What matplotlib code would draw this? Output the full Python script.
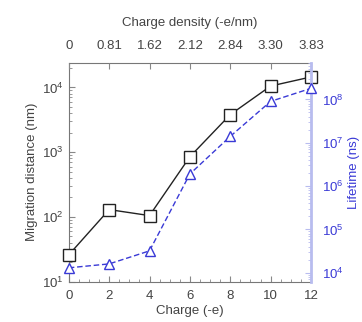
import numpy as np
import matplotlib.pyplot as plt
from matplotlib.ticker import LogLocator, NullFormatter, MultipleLocator

plt.rcParams['font.family'] = ['Liberation Sans', 'DejaVu Sans']

# data
charge = [0, 2, 4, 6, 8, 10, 12]
density_labels = ['0', '0.81', '1.62', '2.12', '2.84', '3.30', '3.83']
migration = [26, 130, 105, 850, 3800, 10500, 14500]
lifetime = [1.3e4, 1.6e4, 3.2e4, 1.9e6, 1.4e7, 9.0e7, 1.8e8]

txt = '#444444'
blue = '#3a3ad6'
spine_blue = '#b8bcef'

fig = plt.figure(figsize=(3.62, 3.22), dpi=100)
ax = fig.add_axes([0.19, 0.125, 0.669, 0.68])

ax.plot(charge, migration, '-', color='#222222', lw=1.0,
        marker='s', ms=8, mfc='white', mec='#222222', mew=1.0, clip_on=False, zorder=3)
ax.set_yscale('log')
ax.set_ylim(10, 2.4e4)
ax.set_xlim(0, 12)
ax.set_xticks(charge)
ax.xaxis.set_minor_locator(MultipleLocator(0.5))
ax.yaxis.set_minor_locator(LogLocator(base=10, subs=np.arange(2, 10)))
ax.yaxis.set_minor_formatter(NullFormatter())
ax.tick_params(which='both', direction='in', colors='#888888', labelcolor=txt, labelsize=9.5)
ax.tick_params(which='major', length=4)
ax.tick_params(which='minor', length=2)
ax.tick_params(axis='x', pad=6)
ax.set_xlabel('Charge (-e)', fontsize=9.5, color=txt, labelpad=2)
ax.set_ylabel('Migration distance (nm)', fontsize=9.5, color=txt, labelpad=3)
for s in ['left', 'bottom', 'top']:
    ax.spines[s].set_color('#777777')
    ax.spines[s].set_linewidth(0.8)
ax.spines['right'].set_visible(False)

# top axis with charge density
top = ax.twiny()
top.set_xlim(ax.get_xlim())
top.set_xticks(charge)
top.set_xticklabels(density_labels)
top.tick_params(direction='in', length=4, colors='#888888', labelcolor=txt, labelsize=9.5, pad=8)
top.set_xlabel('Charge density (-e/nm)', fontsize=9.5, color=txt, labelpad=10)
for s in top.spines.values():
    s.set_visible(False)

# right axis with lifetime
rax = ax.twinx()
rax.plot(charge, lifetime, '--', color=blue, lw=1.0, dashes=(4, 2),
         marker='^', ms=7, mfc='white', mec=blue, mew=1.0, clip_on=False, zorder=3)
rax.set_yscale('log')
rax.set_ylim(6.2e3, 7e8)
rax.yaxis.set_major_locator(LogLocator(base=10, numticks=10))
rax.yaxis.set_minor_locator(LogLocator(base=10, subs=np.arange(2, 10), numticks=20))
rax.yaxis.set_minor_formatter(NullFormatter())
rax.tick_params(which='both', direction='in', colors=spine_blue, labelcolor=blue, labelsize=9.5, pad=8)
rax.tick_params(which='major', length=4)
rax.tick_params(which='minor', length=2)
rax.set_ylabel('Lifetime (ns)', fontsize=9.5, color=blue, labelpad=3)
for s in ['left', 'bottom', 'top']:
    rax.spines[s].set_visible(False)
rax.spines['right'].set_color(spine_blue)
rax.spines['right'].set_linewidth(2.0)

fig.savefig('out.png', dpi=100)
